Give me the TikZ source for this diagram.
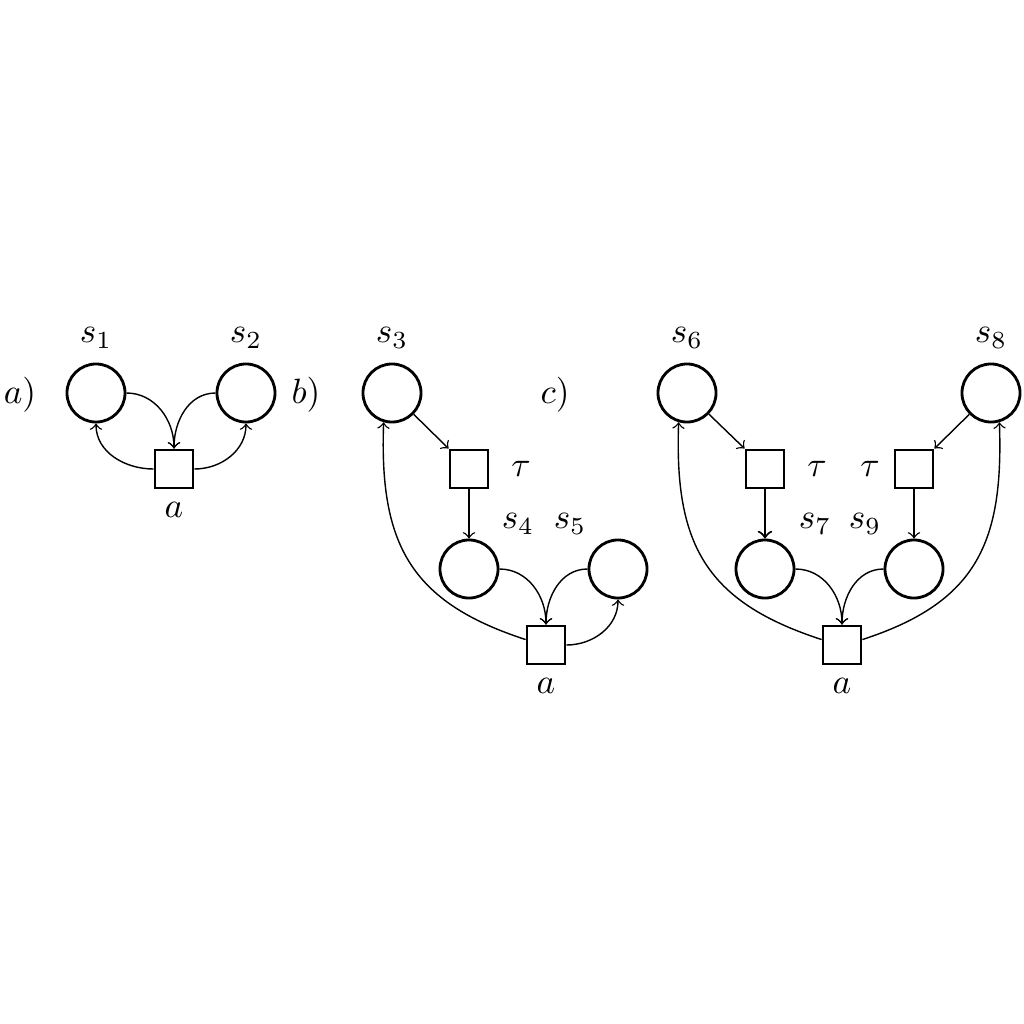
\documentclass[tikz,border=0pt]{standalone}
\usetikzlibrary{arrows}
\begin{document}
\begin{tikzpicture}[x=0.01cm,y=-0.01cm,
  place/.style={circle,draw,thick,minimum size=0.58cm,inner sep=0pt},
  trans/.style={rectangle,draw,thick,minimum size=0.38cm,inner sep=0pt},
  lab/.style={inner sep=0pt},
  arc/.style={->,thin}]
\useasboundingbox (0,0) rectangle (1024,1024);
% a)
\node[lab] (la) at (20,395) {$a)$};
\node[place] (s1) at (96,393) {};
\node[place] (s2) at (246,393) {};
\node[trans] (a1) at (174,469) {};
\node[lab] (ls1) at (96,338) {$s_1$};
\node[lab] (ls2) at (246,338) {$s_2$};
\node[lab] (la1) at (174,510) {$a$};
\draw[arc] (s1.east) to[out=0,in=90] (a1.north);
\draw[arc] (s2.west) to[out=180,in=90] (a1.north);
\draw[arc] (a1.west) to[out=180,in=-90] (s1.south);
\draw[arc] (a1.east) to[out=0,in=-90] (s2.south);
% b)
\node[lab] (lb) at (306,395) {$b)$};
\node[place] (s3) at (392,393) {};
\node[trans] (t1) at (469,469) {};
\node[place] (s4) at (469,569) {};
\node[place] (s5) at (618,569) {};
\node[trans] (a2) at (546,645) {};
\node[lab] (ls3) at (392,338) {$s_3$};
\node[lab] (lt1) at (521,469) {$\tau$};
\node[lab] (ls4) at (518,524) {$s_4$};
\node[lab] (ls5) at (570,524) {$s_5$};
\node[lab] (la2) at (546,686) {$a$};
\draw[arc] (s3) -- (t1.north west);
\draw[arc] (t1.south) -- (s4.north);
\draw[arc] (s4.east) to[out=0,in=90] (a2.north);
\draw[arc] (s5.west) to[out=180,in=90] (a2.north);
\draw[arc] (a2.east) to[out=0,in=-90] (s5.south);
\draw[arc] (a2.165) to[out=162,in=-92,looseness=1.2] (s3.-106);
% c)
\node[lab] (lc) at (555,395) {$c)$};
\node[place] (s6) at (687,393) {};
\node[trans] (t2) at (765,469) {};
\node[place] (s7) at (765,569) {};
\node[place] (s9) at (914,569) {};
\node[trans] (t3) at (914,469) {};
\node[place] (s8) at (991,393) {};
\node[trans] (a3) at (842,645) {};
\node[lab] (ls6) at (687,338) {$s_6$};
\node[lab] (lt2) at (817,469) {$\tau$};
\node[lab] (lt3) at (870,469) {$\tau$};
\node[lab] (ls7) at (815,524) {$s_7$};
\node[lab] (ls9) at (865,524) {$s_9$};
\node[lab] (ls8) at (991,338) {$s_8$};
\node[lab] (la3) at (842,686) {$a$};
\draw[arc] (s6) -- (t2.north west);
\draw[->,semithick] (t2.south) -- (s7.north);
\draw[arc] (s8) -- (t3.north east);
\draw[arc] (t3.south) -- (s9.north);
\draw[arc] (s7.east) to[out=0,in=90] (a3.north);
\draw[arc] (s9.west) to[out=180,in=90] (a3.north);
\draw[arc] (a3.165) to[out=162,in=-92,looseness=1.2] (s6.-106);
\draw[arc] (a3.15) to[out=18,in=-88,looseness=1.2] (s8.-74);
\end{tikzpicture}
\end{document}
